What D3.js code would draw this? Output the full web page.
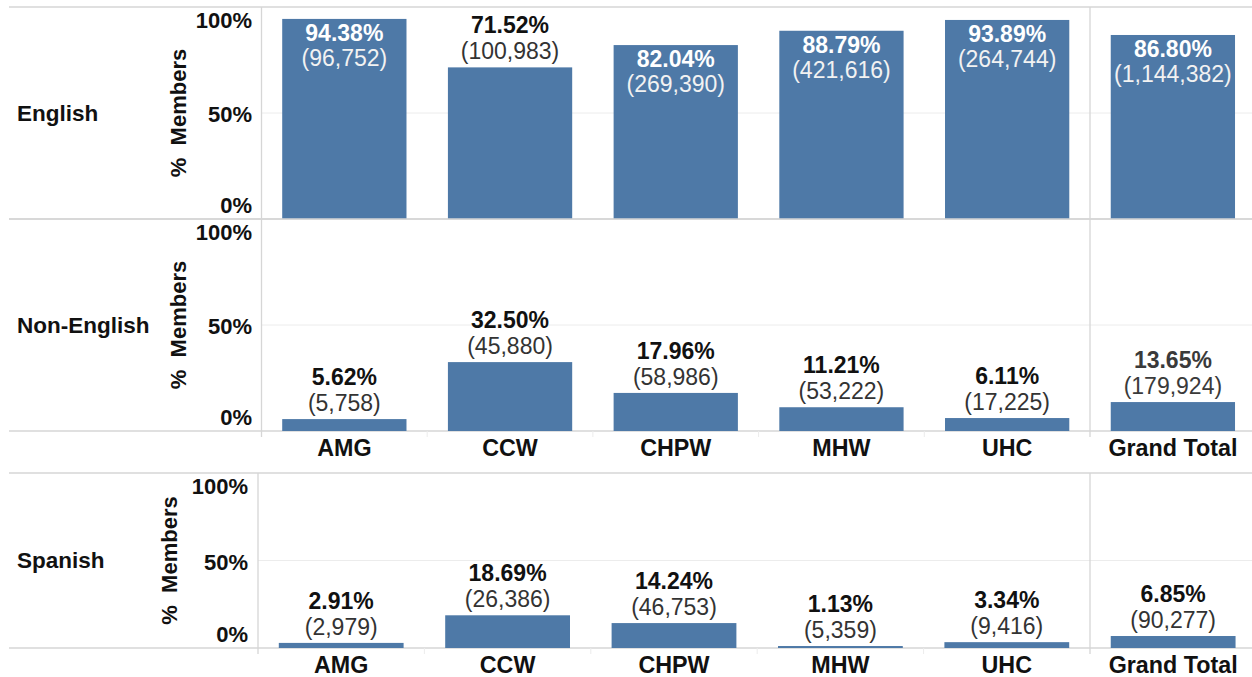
<!DOCTYPE html>
<html>
<head>
<meta charset="utf-8">
<script src="https://cdn.jsdelivr.net/npm/d3@7"></script>
<style>
  body { margin: 0; background: #fff; }
  svg { display: block; font-family: "Liberation Sans", Arial, sans-serif; }
</style>
</head>
<body>
<svg id="chart" width="1252" height="677"></svg>
<script>
// data
const categories = ["AMG", "CCW", "CHPW", "MHW", "UHC"];
const totalLabel = "Grand Total";
const languages = ["English", "Non-English", "Spanish"];
const yTicks = [0, 50, 100];

const englishPct = [94.38, 71.52, 82.04, 88.79, 93.89, 86.80];
const englishCount = [96752, 100983, 269390, 421616, 264744, 1144382];
const nonEnglishPct = [5.62, 32.50, 17.96, 11.21, 6.11, 13.65];
const nonEnglishCount = [5758, 45880, 58986, 53222, 17225, 179924];
const spanishPct = [2.91, 18.69, 14.24, 1.13, 3.34, 6.85];
const spanishCount = [2979, 26386, 46753, 5359, 9416, 90277];

const W = 1252;
const barColor = "#4e79a7";
const lineColor = "#d6d6d6";
const sepX = 1090, rightX = 1256;

// panel layout
const panels = [
  { name: languages[0], pct: englishPct, count: englishCount, top: 7, bottom: 219, axisX: 261.5, tickRight: 252, titleX: 186, xLabels: false },
  { name: languages[1], pct: nonEnglishPct, count: nonEnglishCount, top: 219, bottom: 431, axisX: 261.5, tickRight: 252, titleX: 186, xLabels: true, gtColor: "#3a3a3a" },
  { name: languages[2], pct: spanishPct, count: spanishCount, top: 473, bottom: 648, axisX: 258, tickRight: 248, titleX: 177, xLabels: true }
];

const svg = d3.select("#chart");
const fmtCount = d3.format(",");
const fmtPct = d3.format(".2f");

panels.forEach(p => {
  let g = svg.append("g");
  let y = d3.scaleLinear().domain([0, 100]).range([p.bottom, p.top]);
  let x = d3.scaleBand().domain(categories).range([p.axisX, sepX]).paddingInner(0.25).paddingOuter(0.125);
  let xt = d3.scaleBand().domain([totalLabel]).range([sepX, rightX]).paddingInner(0.25).paddingOuter(0.125);

  let rows = categories.concat([totalLabel]).map((c, i) => ({
    cat: c, pct: p.pct[i], count: p.count[i], total: c === totalLabel
  }));
  let xs = d => d.total ? xt(d.cat) : x(d.cat);

  // 50% grid
  g.append("line")
    .attr("x1", p.axisX).attr("x2", W)
    .attr("y1", y(50)).attr("y2", y(50))
    .attr("stroke", "#ececec").attr("stroke-width", 1);

  // horizontal borders
  [p.top, p.bottom].forEach(v => {
    g.append("line").attr("x1", 9).attr("x2", W).attr("y1", v).attr("y2", v)
      .attr("stroke", lineColor).attr("stroke-width", 1.3);
  });

  // vertical separators
  [p.axisX, sepX].forEach(v => {
    g.append("line").attr("x1", v).attr("x2", v).attr("y1", p.top).attr("y2", p.bottom + (p.xLabels ? 6 : 0))
      .attr("stroke", lineColor).attr("stroke-width", 1.3);
  });
  if (p.xLabels) {
    categories.slice(1).forEach(c => {
      let v = x(c) - x.step() * 0.125;
      g.append("line").attr("x1", v).attr("x2", v).attr("y1", p.bottom).attr("y2", p.bottom + 6)
        .attr("stroke", "#ececec");
    });
  }

  // y ticks
  g.selectAll(".tick").data(yTicks).join("text")
    .attr("x", p.tickRight)
    .attr("y", d => d === 100 ? p.top + 21 : d === 0 ? p.bottom - 6 : y(d) + 9)
    .attr("text-anchor", "end")
    .attr("font-size", 22).attr("font-weight", "bold").attr("fill", "#111")
    .text(d => d + "%");

  // axis title
  g.append("text")
    .attr("transform", `translate(${p.titleX},${(p.top + p.bottom) / 2}) rotate(-90)`)
    .attr("text-anchor", "middle")
    .attr("font-size", 22).attr("font-weight", "bold").attr("fill", "#111")
    .style("white-space", "pre")
    .text("%  Members");

  // row header
  g.append("text")
    .attr("x", 17).attr("y", (p.top + p.bottom) / 2)
    .attr("dominant-baseline", "central")
    .attr("font-size", 22.5).attr("font-weight", "bold").attr("fill", "#111")
    .text(p.name);

  // bars
  g.selectAll("rect").data(rows).join("rect")
    .attr("x", xs)
    .attr("y", d => y(d.pct))
    .attr("width", x.bandwidth())
    .attr("height", d => p.bottom - y(d.pct))
    .attr("fill", barColor);

  // labels
  rows.forEach(d => {
    let top = y(d.pct);
    let inside = top - 50 < p.top;
    let cx = xs(d) + x.bandwidth() / 2;
    let c1 = inside ? "#fff" : (d.total && p.gtColor ? p.gtColor : "#111");
    let c2 = inside ? "#f2f2f2" : (d.total && p.gtColor ? p.gtColor : "#333");
    let y1 = inside ? top + 22 : top - 34;
    let y2 = inside ? top + 47 : top - 8;
    g.append("text").attr("x", cx).attr("y", y1).attr("text-anchor", "middle")
      .attr("font-size", 23).attr("font-weight", "bold").attr("fill", c1)
      .text(fmtPct(d.pct) + "%");
    g.append("text").attr("x", cx).attr("y", y2).attr("text-anchor", "middle")
      .attr("font-size", 23).attr("fill", c2)
      .text("(" + fmtCount(d.count) + ")");
  });

  // x labels
  if (p.xLabels) {
    g.selectAll(".xl").data(rows).join("text")
      .attr("x", d => xs(d) + x.bandwidth() / 2)
      .attr("y", p.bottom + 24.5)
      .attr("text-anchor", "middle")
      .attr("font-size", 23.3).attr("font-weight", "bold").attr("fill", "#111")
      .text(d => d.cat);
  }
});
</script>
</body>
</html>
